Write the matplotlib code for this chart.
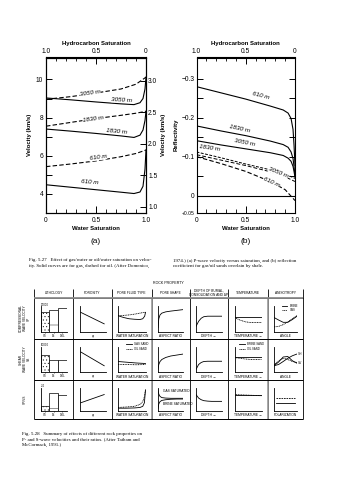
import matplotlib.pyplot as plt
import numpy as np

W, H = 357, 480

# ---------------- Fig. 5.27 (a): P-wave velocity vs water saturation
sw_gas_a = [0, 0.25, 0.5, 0.75, 0.88, 0.94, 0.97, 0.99, 1.0]
vp_gas_3050 = [9.03, 8.93, 8.82, 8.72, 8.68, 8.78, 9.0, 9.5, 10.12]
vp_gas_1830 = [7.4, 7.29, 7.17, 7.04, 6.96, 7.08, 7.35, 7.85, 8.33]
vp_gas_610 = [4.48, 4.35, 4.22, 4.09, 4.02, 4.1, 4.4, 5.3, 6.3]
sw_oil_a = [0, 0.25, 0.5, 0.75, 0.9, 1.0]
vp_oil_3050 = [8.96, 9.1, 9.29, 9.5, 9.75, 10.12]
vp_oil_1830 = [7.55, 7.75, 7.95, 8.12, 8.23, 8.33]
vp_oil_610 = [5.43, 5.57, 5.73, 5.95, 6.12, 6.3]

# ---------------- Fig. 5.27 (b): reflectivity vs water saturation
sw_gas_b = [0, 0.25, 0.5, 0.75, 0.88, 0.93, 0.96, 0.98, 0.99, 1.0]
rc_gas_610 = [-0.280, -0.264, -0.248, -0.230, -0.220, -0.212, -0.198, -0.17, -0.13, -0.077]
rc_gas_1830 = [-0.179, -0.166, -0.154, -0.140, -0.131, -0.124, -0.112, -0.095, -0.075, -0.051]
rc_gas_3050 = [-0.141, -0.130, -0.120, -0.110, -0.103, -0.096, -0.088, -0.075, -0.062, -0.047]
sw_oil_b = [0, 0.25, 0.5, 0.75, 0.9, 1.0]
rc_oil_1830 = [-0.112, -0.097, -0.081, -0.066, -0.055, -0.044]
rc_oil_3050 = [-0.105, -0.091, -0.077, -0.061, -0.048, -0.036]
rc_oil_610 = [-0.100, -0.082, -0.062, -0.036, -0.015, 0.013]

# ---------------- Fig. 5.28: schematic summary table
columns = ['LITHOLOGY', 'POROSITY', 'PORE FLUID TYPE', 'PORE SHAPE',
           'DEPTH OF BURIAL,\nCONSOLIDATION AND \u0394P', 'TEMPERATURE', 'ANISOTROPY']
rows = ['COMPRESSIONAL\nWAVE VELOCITY\nVP', 'SHEAR\nWAVE VELOCITY\nVS', 'VP/VS']

lith_names = ['SS', 'LS', 'DOL']
lith_vp = [0.75, 0.85, 0.92]
lith_vs = [0.68, 0.5, 0.5]
lith_ratio = [0.2, 0.78, 0.7]

por_x = [0.05, 0.95]
por_vp = [0.75, 0.3]
por_vs = [0.8, 0.25]
por_ratio = [0.35, 0.7]

fluid_x = [0, 0.2, 0.4, 0.6, 0.8, 0.9, 0.97, 1.0]
fluid_vp_gas = [0.62, 0.55, 0.5, 0.48, 0.47, 0.5, 0.6, 0.75]
fluid_vp_oil = [0.62, 0.63, 0.65, 0.68, 0.72, 0.74, 0.75, 0.75]
fluid2_x = [0, 0.33, 0.67, 1.0]
fluid_vs_gas = [0.42, 0.39, 0.36, 0.34]
fluid_vs_oil = [0.3, 0.3, 0.29, 0.3]
fluid3_x = [0, 0.3, 0.6, 0.8, 0.9, 0.96, 1.0]
fluid_ratio_gas = [0.12, 0.12, 0.13, 0.15, 0.2, 0.35, 0.9]
fluid_ratio_oil = [0.15, 0.17, 0.2, 0.28, 0.4, 0.6, 0.9]

shape_x = [0.0, 0.03, 0.08, 0.15, 0.3, 0.5, 0.75, 1.0]
shape_vp = [0.15, 0.5, 0.65, 0.72, 0.77, 0.8, 0.83, 0.86]
shape_vs = [0.1, 0.3, 0.42, 0.5, 0.58, 0.64, 0.68, 0.72]
shape_ratio_gas = [0.9, 0.72, 0.62, 0.57, 0.55, 0.54, 0.54, 0.54]
shape_ratio_brine = [0.1, 0.3, 0.4, 0.45, 0.48, 0.5, 0.51, 0.51]

depth_x = [0, 0.1, 0.2, 0.3, 0.45, 0.6, 0.8, 1.0]
depth_vp = [0.2, 0.4, 0.52, 0.58, 0.6, 0.6, 0.6, 0.6]
depth_vs = [0.1, 0.3, 0.38, 0.42, 0.43, 0.43, 0.43, 0.43]
depth_ratio = [0.7, 0.55, 0.48, 0.44, 0.42, 0.41, 0.41, 0.41]

temp_x = [0, 0.2, 0.4, 0.6, 0.8, 1.0]
temp_vp_brine = [0.55, 0.55, 0.55, 0.55, 0.55, 0.55]
temp_vp_oil = [0.55, 0.45, 0.38, 0.35, 0.35, 0.35]
temp_vs_brine = [0.6, 0.6, 0.6, 0.6, 0.6, 0.6]
temp_vs_oil = [0.58, 0.55, 0.52, 0.5, 0.5, 0.5]
temp_ratio_brine = [0.7, 0.7, 0.7, 0.7, 0.7, 0.7]
temp_ratio_oil = [0.7, 0.69, 0.68, 0.67, 0.66, 0.65]

aniso_x = [0, 0.2, 0.4, 0.6, 0.8, 1.0]
aniso_vp_brine = [0.55, 0.45, 0.36, 0.36, 0.47, 0.6]
aniso_vp_gas = [0.18, 0.2, 0.27, 0.38, 0.5, 0.62]
aniso_vs_sh = [0.25, 0.3, 0.42, 0.55, 0.65, 0.72]
aniso_vs_sv = [0.25, 0.4, 0.6, 0.62, 0.45, 0.35]
aniso_vs_sv2 = [0.28, 0.45, 0.55, 0.5, 0.42, 0.38]
pol_x = [0.1, 0.9]
pol_ratio_a = [0.55, 0.55]
pol_ratio_b = [0.35, 0.35]

col_x = [34, 73, 111.5, 151.5, 189.5, 228, 267.5, 303]
row_y = [298, 339, 379.5, 418.5]

plt.rcParams['font.family'] = ['Liberation Sans', 'DejaVu Sans']
plt.rcParams['hatch.linewidth'] = 0.3

fig = plt.figure(figsize=(W / 100, H / 100), dpi=100)
fig.patch.set_facecolor('white')


def box(x0, y0, x1, y1):
    return [x0 / W, 1 - y1 / H, (x1 - x0) / W, (y1 - y0) / H]


def ftext(x, y, s, **kw):
    kw.setdefault('ha', 'center')
    kw.setdefault('va', 'center')
    fig.text(x / W, 1 - y / H, s, **kw)


lab = dict(fontsize=4.6, style='italic', ha='center', va='center',
           bbox=dict(fc='white', ec='none', pad=0.2))
dash = (4, 2)
TL = 4.8  # tick label size


def sat_axes(ax):
    ax.set_xlim(0, 1)
    ax.set_xticks([0, 0.5, 1.0], labels=['0', '0.5', '1.0'])
    ax.set_xticks(np.linspace(0, 1, 11), minor=True)
    ax.tick_params(axis='x', which='both', direction='in', top=False, labelsize=TL, pad=3)
    ax.tick_params(axis='x', which='major', length=5, width=0.7)
    ax.tick_params(axis='x', which='minor', length=3, width=0.6)
    sec = ax.secondary_xaxis('top', functions=(lambda s: 1 - s, lambda h: 1 - h))
    sec.set_xticks([1.0, 0.5, 0.0], labels=['1.0', '0.5', '0'])
    sec.set_xticks(np.linspace(0, 1, 11), minor=True)
    sec.tick_params(which='both', direction='in', labelsize=TL, pad=2)
    sec.tick_params(which='major', length=5, width=0.7)
    sec.tick_params(which='minor', length=3, width=0.6)
    for s in ax.spines.values():
        s.set_linewidth(0.8)
    for s in sec.spines.values():
        s.set_linewidth(0.8)


# ----- panel (a)
ax = fig.add_axes(box(46, 57.5, 146, 213))
ax.plot(sw_gas_a, vp_gas_3050, 'k-', lw=0.8)
ax.plot(sw_gas_a, vp_gas_1830, 'k-', lw=0.8)
ax.plot(sw_gas_a, vp_gas_610, 'k-', lw=0.8)
ax.plot(sw_oil_a, vp_oil_3050, 'k--', lw=0.8, dashes=dash)
ax.plot(sw_oil_a, vp_oil_1830, 'k--', lw=0.8, dashes=dash)
ax.plot(sw_oil_a, vp_oil_610, 'k--', lw=0.8, dashes=dash)
ax.set_ylim(3.0, 11.15)
ax.set_yticks([4, 6, 8, 10])
ax.set_yticks([5, 7, 9], minor=True)
ax.tick_params(axis='y', which='both', direction='in', labelsize=TL, length=4, width=0.7, pad=2)
sat_axes(ax)
ax.text(0.44, 9.3, '3050 m', rotation=8, **lab)
ax.text(0.76, 8.92, '3050 m', rotation=-3, **lab)
ax.text(0.47, 7.95, '1830 m', rotation=8, **lab)
ax.text(0.71, 7.27, '1830 m', rotation=-5, **lab)
ax.text(0.52, 5.9, '610 m', rotation=8, **lab)
ax.text(0.44, 4.62, '610 m', rotation=-4, **lab)
ax2 = ax.twinx()
ax2.set_ylim(0.90, 3.37)
ax2.set_yticks([1.0, 1.5, 2.0, 2.5, 3.0])
ax2.tick_params(direction='in', labelsize=TL, length=4, width=0.7, pad=1.5)

# ----- panel (b)
bx = fig.add_axes(box(196.5, 57.5, 295, 213))
bx.axhline(0, color='k', lw=0.8)
bx.plot(sw_gas_b, rc_gas_610, 'k-', lw=0.8)
bx.plot(sw_gas_b, rc_gas_1830, 'k-', lw=0.8)
bx.plot(sw_gas_b, rc_gas_3050, 'k-', lw=0.8)
bx.plot(sw_oil_b, rc_oil_1830, 'k--', lw=0.7, dashes=(3, 1.5))
bx.plot(sw_oil_b, rc_oil_3050, 'k--', lw=0.7, dashes=(4, 2))
bx.plot(sw_oil_b, rc_oil_610, 'k--', lw=0.8, dashes=dash)
bx.set_ylim(0.045, -0.355)
bx.set_yticks([-0.3, -0.2, -0.1, 0, 0.045], labels=['\u22120.3', '\u22120.2', '\u22120.1', '0', '+0.05'])
bx.set_yticks([-0.25, -0.15, -0.05], minor=True)
bx.tick_params(axis='y', which='both', direction='in', right=True, labelsize=TL, length=4, width=0.7, pad=1.5)
bx.get_yticklabels()[-1].set_fontsize(3.6)
sat_axes(bx)
bx.text(0.65, -0.258, '610 m', rotation=-14, **lab)
bx.text(0.44, -0.172, '1830 m', rotation=-12, **lab)
bx.text(0.49, -0.137, '3050 m', rotation=-11, **lab)
bx.text(0.13, -0.122, '1830 m', rotation=-8, **lab)
bx.text(0.83, -0.058, '3050 m', rotation=-22, **lab)
bx.text(0.76, -0.034, '610 m', rotation=-24, **lab)

bold = dict(fontsize=4.3, weight='bold')
for cx in (96, 245.7):
    ftext(cx, 43.5, 'Hydrocarbon Saturation', **bold)
    ftext(cx, 229, 'Water Saturation', **bold)
ftext(96, 241.5, '(a)', fontsize=6)
ftext(245.7, 241.5, '(b)', fontsize=6)
ftext(29, 135, 'Velocity (km/s)', rotation=90, **bold)
ftext(163.5, 135, 'Velocity (km/s)', rotation=90, **bold)
ftext(176.5, 135, 'Reflectivity', rotation=90, **bold)

serif = dict(fontsize=3.5, family='Liberation Serif', ha='left', va='center')
ftext(29, 260.5, 'Fig. 5.27   Effect of gas/water or oil/water saturation on veloc-', **serif)
ftext(29, 265.5, 'ity. Solid curves are for gas, dashed for oil. (After Domenico,', **serif)
ftext(173, 260.5, '1974.) (a) P-wave velocity versus saturation, and (b) reflection', **serif)
ftext(173, 265.5, 'coefficient for gas/oil sands overlain by shale.', **serif)

# ----- Fig. 5.28 table
tab = fig.add_axes([0, 0, 1, 1])
tab.set_xlim(0, W)
tab.set_ylim(H, 0)
tab.axis('off')
tab.patch.set_alpha(0)
tab.vlines(col_x, 289, row_y[-1], color='k', lw=0.6)
tab.vlines([col_x[3], col_x[6]], row_y[0], row_y[-1], color='0.6', lw=1.2)
tab.hlines(row_y, col_x[0], col_x[-1], color='k', lw=0.7)
tab.hlines(row_y[0], col_x[0], col_x[-1], color='0.55', lw=1.3)

tiny = dict(fontsize=2.3)
ftext(168, 283, 'ROCK PROPERTY', fontsize=2.6)
for i, name in enumerate(columns):
    ftext((col_x[i] + col_x[i + 1]) / 2, 293, name, linespacing=1.0, **tiny)
for j, name in enumerate(rows):
    ftext(25, (row_y[j] + row_y[j + 1]) / 2, name, rotation=90, linespacing=1.0, **tiny)


def cell(r, c, xlabel=None):
    a = fig.add_axes(box(col_x[c] + 6.5, row_y[r] + 8, col_x[c + 1] - 6, row_y[r + 1] - 7.5))
    a.set_xlim(0, 1)
    a.set_ylim(0, 1)
    a.set_xticks([])
    a.set_yticks([])
    for s in ('top', 'right'):
        a.spines[s].set_visible(False)
    for s in ('left', 'bottom'):
        a.spines[s].set_linewidth(0.6)
    a.patch.set_alpha(0)
    if xlabel:
        a.text(0.5, -0.1, xlabel, transform=a.transAxes, ha='center', va='top', **tiny)
    return a


sl = dict(color='k', lw=0.6)
dl = dict(color='k', lw=0.6, ls=(0, (1.2, 0.8)))

lith_sets = [lith_vp, lith_vs, lith_ratio]
lith_top_labels = ['20000', '10000', '2.4']
for r in range(3):
    a = cell(r, 0)
    bars = a.bar([0.17, 0.5, 0.83], lith_sets[r], width=0.33, color='white', edgecolor='k', lw=0.5)
    bars[0].set_hatch('.....')
    bars[1].set_hatch('-|')
    a.set_xticks([0.17, 0.5, 0.83], labels=lith_names)
    a.tick_params(labelsize=2.0, length=1, width=0.4, pad=0.5)
    a.text(0.02, 0.98, lith_top_labels[r], transform=a.transAxes, ha='left', va='bottom', fontsize=2.0)

por_sets = [por_vp, por_vs, por_ratio]
for r in range(3):
    a = cell(r, 1, '\u03c6')
    a.plot(por_x, por_sets[r], **sl)

a = cell(0, 2, 'WATER SATURATION')
a.plot(fluid_x, fluid_vp_gas, **sl)
a.plot(fluid_x, fluid_vp_oil, **dl)
a = cell(1, 2, 'WATER SATURATION')
a.plot(fluid2_x, fluid_vs_gas, **sl, label='GAS SAND')
a.plot(fluid2_x, fluid_vs_oil, **dl, label='OIL SAND')
a.legend(loc='upper right', fontsize=2.0, frameon=False, handlelength=2, borderpad=0, labelspacing=0.2,
         bbox_to_anchor=(1.15, 1.25))
a = cell(2, 2, 'WATER SATURATION')
a.plot(fluid3_x, fluid_ratio_gas, **sl)
a.plot(fluid3_x, fluid_ratio_oil, **dl)

a = cell(0, 3, 'ASPECT RATIO')
a.plot(shape_x, shape_vp, **sl)
a = cell(1, 3, 'ASPECT RATIO')
a.plot(shape_x, shape_vs, **sl)
a = cell(2, 3, 'ASPECT RATIO')
a.plot(shape_x, shape_ratio_gas, **sl)
a.plot(shape_x, shape_ratio_brine, **sl)
a.text(0.2, 0.82, 'GAS SATURATED', ha='left', **tiny)
a.text(0.2, 0.25, 'BRINE SATURATED', ha='left', **tiny)

depth_sets = [depth_vp, depth_vs, depth_ratio]
for r in range(3):
    a = cell(r, 4, 'DEPTH \u2192')
    a.plot(depth_x, depth_sets[r], **sl)

a = cell(0, 5, 'TEMPERATURE \u2192')
a.plot(temp_x, temp_vp_brine, **sl)
a.plot(temp_x, temp_vp_oil, **dl)
a = cell(1, 5, 'TEMPERATURE \u2192')
a.plot(temp_x, temp_vs_brine, **sl, label='BRINE SAND')
a.plot(temp_x, temp_vs_oil, **dl, label='OIL SAND')
a.legend(loc='upper right', fontsize=2.0, frameon=False, handlelength=2, borderpad=0, labelspacing=0.2,
         bbox_to_anchor=(1.15, 1.25))
a = cell(2, 5, 'TEMPERATURE \u2192')
a.plot(temp_x, temp_ratio_brine, **sl)
a.plot(temp_x, temp_ratio_oil, **dl)

a = cell(0, 6, 'ANGLE')
a.plot(aniso_x, aniso_vp_brine, **sl, label='BRINE')
a.plot(aniso_x, aniso_vp_gas, **dl, label='GAS')
a.legend(loc='upper right', fontsize=2.0, frameon=False, handlelength=2, borderpad=0, labelspacing=0.2,
         bbox_to_anchor=(1.1, 1.15))
a = cell(1, 6, 'ANGLE')
a.plot(aniso_x, aniso_vs_sh, **sl)
a.plot(aniso_x, aniso_vs_sv, **sl)
a.plot(aniso_x, aniso_vs_sv2, **dl)
a.text(1.02, aniso_vs_sh[-1], 'SH', ha='left', va='center', **tiny)
a.text(1.02, aniso_vs_sv[-1], 'SV', ha='left', va='center', **tiny)
a = cell(2, 6, 'POLARIZATION')
a.plot(pol_x, pol_ratio_a, color='k', lw=0.6, ls=(0, (2, 1)))
a.plot(pol_x, pol_ratio_b, **sl)

ftext(21.5, 434, 'Fig. 5.28   Summary of effects of different rock properties on', **serif)
ftext(21.5, 439.5, 'P- and S-wave velocities and their ratios. (After Tatham and', **serif)
ftext(21.5, 445, 'McCormack, 1991.)', **serif)

fig.savefig('out.png', dpi=100, facecolor='white')
